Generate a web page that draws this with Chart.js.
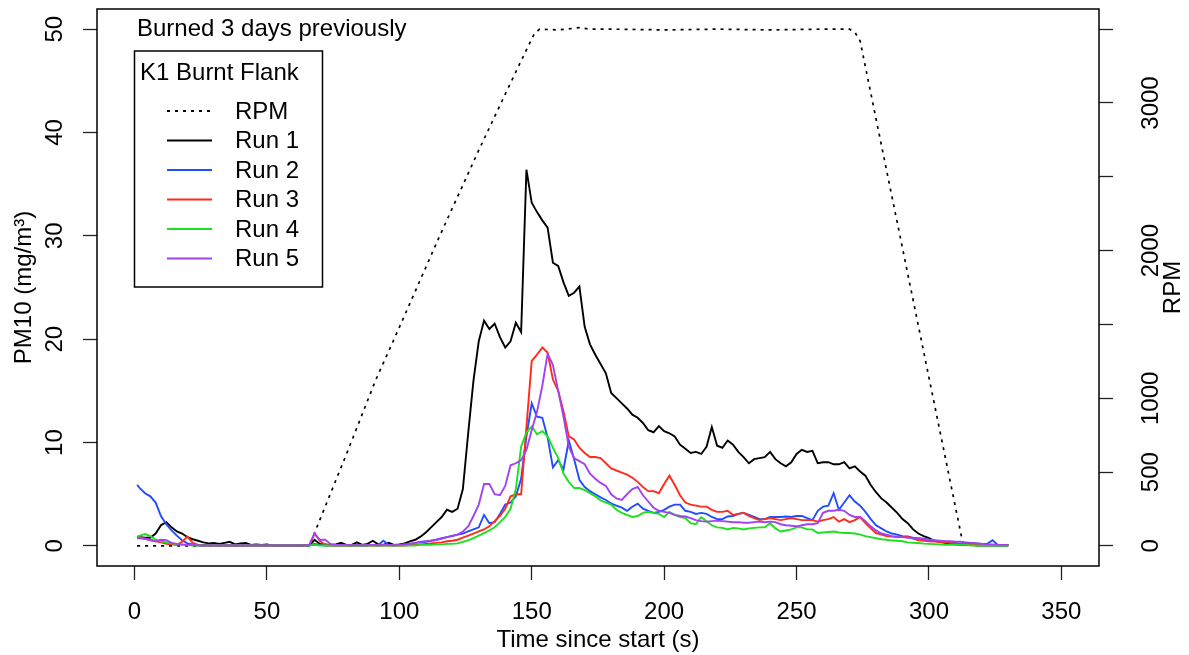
<!DOCTYPE html>
<html>
<head>
<meta charset="utf-8">
<script src="https://cdn.jsdelivr.net/npm/chart.js@4.4.1/dist/chart.umd.min.js"></script>
<style>
  html, body { margin: 0; padding: 0; background: #fff; }
  #wrap { width: 1189px; height: 655px; }
</style>
</head>
<body>
<div id="wrap"><canvas id="pm_chart" width="1189" height="655"></canvas></div>
<script>
// Time since start (s), shared by the five runs
const times = [
  1, 2, 4, 6, 8, 10, 12, 14, 16, 18,
  20, 22, 24, 26, 28, 30, 32, 34, 36, 38,
  40, 42, 44, 46, 48, 50, 52, 54, 56, 58,
  60, 62, 64, 66, 68, 70, 72, 74, 76, 78,
  80, 82, 84, 86, 88, 90, 92, 94, 96, 98,
  100, 102, 104, 106, 108, 110, 112, 114, 116, 118,
  120, 122, 124, 126, 128, 130, 132, 134, 136, 138,
  140, 142, 144, 146, 148, 150, 152, 154, 156, 158,
  160, 162, 164, 166, 168, 170, 172, 174, 176, 178,
  180, 182, 184, 186, 188, 190, 192, 194, 196, 198,
  200, 202, 204, 206, 208, 210, 212, 214, 216, 218,
  220, 222, 224, 226, 228, 230, 232, 234, 236, 238,
  240, 242, 244, 246, 248, 250, 252, 254, 256, 258,
  260, 262, 264, 266, 268, 270, 272, 274, 276, 278,
  280, 282, 284, 286, 288, 290, 292, 294, 296, 298,
  300, 302, 304, 306, 308, 310, 312, 314, 316, 318,
  320, 322, 324, 326, 328, 330
];

// PM10 (mg/m3) per run
const run1 = [
  0.85, 0.85, 0.8, 0.8, 1.2, 2.0, 2.3, 1.8, 1.4, 1.2,
  0.85, 0.65, 0.5, 0.35, 0.25, 0.3, 0.2, 0.3, 0.4, 0.15,
  0.25, 0.3, 0.1, 0.15, 0.1, 0.15, 0.05, 0.05, 0.05, 0.05,
  0.05, 0.05, 0.05, 0.05, 0.6, 0.2, 0.15, 0.1, 0.15, 0.3,
  0.1, 0.1, 0.35, 0.1, 0.2, 0.5, 0.15, 0.1, 0.3, 0.1,
  0.15, 0.25, 0.45, 0.6, 0.9, 1.3, 1.8, 2.3, 2.8, 3.5,
  3.3, 3.6, 5.5, 10.9, 16.0, 19.8, 21.8, 21.0, 21.5, 20.2,
  19.2, 19.8, 21.6, 20.7, 36.4, 33.2, 32.3, 31.5, 30.8, 27.4,
  27.1, 25.5, 24.2, 24.5, 25.1, 21.2, 19.5, 18.5, 17.6, 16.7,
  14.8, 14.3, 13.8, 13.3, 12.7, 12.4, 11.9, 11.2, 11.0, 11.6,
  11.1, 10.9, 10.6, 9.8, 9.4, 9.0, 9.1, 8.9, 9.6, 11.5,
  9.7, 9.5, 10.2, 9.8, 9.1, 8.6, 8.0, 8.4, 8.5, 8.6,
  9.1, 8.4, 8.0, 7.7, 8.1, 8.9, 9.3, 9.1, 9.2, 8.0,
  8.1, 8.1, 7.9, 7.9, 8.1, 7.5, 7.7, 7.2, 6.8, 5.9,
  5.2, 4.6, 4.2, 3.7, 3.2, 2.6, 2.2, 1.6, 1.2, 0.95,
  0.75, 0.5, 0.4, 0.3, 0.2, 0.15, 0.1, 0.1, 0.1, 0.05,
  0.05, 0.05, 0.05, 0.05, 0.05, 0.05
];
const run2 = [
  5.9, 5.6, 5.1, 4.8, 4.2, 2.9, 2.1, 1.5, 1.0, 0.55,
  0.25, 0.15, 0.1, 0.1, 0.1, 0.05, 0.05, 0.05, 0.05, 0.05,
  0.05, 0.05, 0.05, 0.05, 0.05, 0.05, 0.05, 0.05, 0.05, 0.05,
  0.05, 0.05, 0.05, 0.05, 0.2, 0.1, 0.05, 0.05, 0.05, 0.05,
  0.05, 0.05, 0.05, 0.05, 0.05, 0.1, 0.1, 0.5, 0.1, 0.1,
  0.1, 0.15, 0.2, 0.3, 0.35, 0.4, 0.5, 0.6, 0.75, 0.85,
  0.95, 1.1, 1.2, 1.4, 1.6, 1.8, 3.0, 2.2, 2.3, 3.1,
  4.0, 4.2, 4.8, 6.5, 10.6, 13.8, 12.5, 12.4, 10.5, 7.6,
  8.3, 7.4, 10.2, 8.4, 6.4, 5.7, 5.3, 5.0, 4.7, 4.45,
  4.1, 3.9, 3.7, 3.4, 3.8, 4.1, 3.6, 3.4, 3.2, 3.3,
  3.5, 3.8, 4.0, 4.0, 3.4, 3.3, 3.1, 3.2, 3.1, 2.8,
  2.6, 2.6, 2.85, 2.9, 3.1, 3.2, 3.0, 2.8, 2.6, 2.6,
  2.8, 2.8, 2.8, 2.85, 2.8, 2.9, 2.9, 2.7, 2.5, 3.4,
  3.8, 3.9, 5.1, 3.5, 4.2, 4.9, 4.3, 3.9, 3.3, 2.6,
  2.0, 1.7, 1.4, 1.2, 1.1, 0.95, 0.9, 0.8, 0.75, 0.7,
  0.6, 0.5, 0.45, 0.4, 0.35, 0.3, 0.2, 0.25, 0.3, 0.25,
  0.2, 0.2, 0.55, 0.1, 0.1, 0.1
];
const run3 = [
  0.9, 0.85, 0.7, 0.55, 0.45, 0.35, 0.2, 0.15, 0.1, 0.4,
  0.9, 0.3, 0.1, 0.05, 0.05, 0.05, 0.05, 0.05, 0.05, 0.05,
  0.05, 0.05, 0.05, 0.05, 0.05, 0.05, 0.05, 0.05, 0.05, 0.05,
  0.05, 0.05, 0.05, 0.05, 1.2, 0.5, 0.1, 0.05, 0.05, 0.05,
  0.05, 0.05, 0.05, 0.05, 0.05, 0.05, 0.05, 0.05, 0.05, 0.05,
  0.05, 0.05, 0.1, 0.1, 0.15, 0.2, 0.25, 0.3, 0.35, 0.45,
  0.5, 0.6, 0.8, 1.0, 1.2, 1.4, 1.6, 1.9, 2.4, 2.9,
  3.6, 4.8, 5.0, 5.0, 11.5, 17.9, 18.5, 19.2, 18.7, 16.1,
  15.0, 13.0, 10.6, 10.3, 9.5, 9.0, 8.6, 8.6, 8.5, 8.0,
  7.5, 7.3, 7.1, 6.9, 6.6, 6.2, 5.7, 5.3, 5.3, 5.1,
  6.0, 6.8, 5.9, 4.9, 4.2, 4.0, 3.9, 3.8, 3.8, 3.5,
  3.3, 3.3, 3.4, 3.0, 3.1, 3.2, 2.9, 2.7, 2.5, 2.6,
  2.7, 2.6, 2.5, 2.6, 2.7, 2.6, 2.5, 2.5, 2.5, 2.35,
  2.5, 2.6, 2.8, 2.35, 2.6, 2.3, 2.5, 2.8, 2.2, 1.7,
  1.25, 1.1, 0.95, 0.9, 0.85, 0.85, 0.92, 0.7, 0.55, 0.5,
  0.45, 0.42, 0.4, 0.35, 0.3, 0.25, 0.2, 0.2, 0.15, 0.15,
  0.1, 0.1, 0.1, 0.1, 0.1, 0.1
];
const run4 = [
  0.9, 1.0, 1.15, 0.95, 0.6, 0.45, 0.35, 0.25, 0.15, 0.1,
  0.1, 0.05, 0.05, 0.05, 0.05, 0.05, 0.05, 0.05, 0.05, 0.05,
  0.05, 0.05, 0.05, 0.05, 0.05, 0.05, 0.05, 0.05, 0.05, 0.05,
  0.05, 0.05, 0.05, 0.05, 0.1, 0.05, 0.05, 0.05, 0.05, 0.05,
  0.05, 0.05, 0.05, 0.05, 0.05, 0.05, 0.05, 0.05, 0.05, 0.05,
  0.05, 0.05, 0.05, 0.05, 0.1, 0.1, 0.1, 0.15, 0.15, 0.2,
  0.2, 0.25, 0.4, 0.55, 0.75, 1.0, 1.25, 1.5, 1.8, 2.3,
  2.8, 3.6, 5.5, 9.6, 11.0, 11.55, 10.8, 11.1, 10.6, 9.5,
  8.5, 7.0, 6.2, 5.6, 5.6, 5.4, 5.1, 4.8, 4.4, 4.2,
  4.0, 3.5, 3.2, 3.0, 2.8, 2.9, 3.2, 3.3, 3.2, 3.1,
  2.8, 3.3, 3.0, 2.8, 2.7, 2.2, 2.1, 2.8, 2.4, 2.0,
  1.8, 1.75, 1.6, 1.75, 1.7, 1.6, 1.7, 1.75, 1.8, 1.8,
  2.2, 1.7, 1.4, 1.5, 1.6, 1.8, 1.8, 1.6, 1.6, 1.25,
  1.3, 1.35, 1.4, 1.3, 1.25, 1.25, 1.2, 1.1, 0.95, 0.85,
  0.75, 0.65, 0.6, 0.52, 0.5, 0.45, 0.35, 0.3, 0.28, 0.22,
  0.2, 0.18, 0.15, 0.12, 0.1, 0.1, 0.1, 0.1, 0.05, 0.05,
  0.05, 0.05, 0.05, 0.05, 0.05, 0.05
];
const run5 = [
  0.75, 0.75, 0.7, 0.6, 0.45, 0.6, 0.55, 0.3, 0.2, 0.15,
  0.1, 0.1, 0.05, 0.05, 0.05, 0.05, 0.05, 0.05, 0.05, 0.05,
  0.05, 0.05, 0.05, 0.05, 0.05, 0.05, 0.05, 0.05, 0.05, 0.05,
  0.05, 0.05, 0.05, 0.1, 1.2, 0.6, 0.6, 0.2, 0.1, 0.1,
  0.1, 0.05, 0.1, 0.05, 0.1, 0.1, 0.05, 0.1, 0.1, 0.05,
  0.1, 0.15, 0.2, 0.3, 0.4, 0.45, 0.5, 0.6, 0.7, 0.85,
  1.0, 1.1, 1.4, 1.9, 2.9, 4.0, 6.0, 6.0, 5.0, 4.9,
  5.8, 7.8, 8.0, 8.3, 9.3, 11.2, 13.0, 15.5, 18.6, 17.5,
  15.0, 12.5, 9.6, 8.5, 8.2, 7.9, 7.0, 6.5, 6.1, 5.8,
  5.0, 4.6, 4.45, 5.0, 5.5, 5.7, 4.9, 4.3, 3.7, 3.4,
  3.3, 3.2, 3.0, 2.9, 2.85, 2.7, 2.5, 2.4, 2.35, 2.4,
  2.45, 2.4, 2.35, 2.3, 2.3, 2.25, 2.25, 2.3, 2.35, 2.3,
  2.35, 2.3, 2.1, 2.0, 1.95, 1.9, 2.0, 2.1, 2.1, 2.2,
  3.2, 3.4, 3.4, 3.5, 3.4, 3.0, 2.8, 2.8, 2.4, 1.9,
  1.5, 1.2, 1.1, 0.95, 0.9, 0.85, 0.8, 0.75, 0.7, 0.65,
  0.6, 0.55, 0.5, 0.45, 0.45, 0.4, 0.4, 0.35, 0.3, 0.25,
  0.2, 0.15, 0.15, 0.1, 0.1, 0.1
];

// Engine speed, right axis
const rpmTimes = [1, 66, 80, 91, 100, 115, 130, 140, 148, 151, 153, 160, 168, 172, 180, 200, 220, 240, 260, 270, 272, 274, 313];
const rpmValues = [0, 0, 620, 1120, 1480, 2090, 2680, 3060, 3360, 3470, 3500, 3495, 3510, 3500, 3500, 3495, 3500, 3495, 3500, 3500, 3480, 3420, 0];

const xTicks = [0, 50, 100, 150, 200, 250, 300, 350];
const pmTicks = [0, 10, 20, 30, 40, 50];
const rpmTicks = [0, 500, 1000, 1500, 2000, 2500, 3000, 3500];
const rpmLabelled = [0, 500, 1000, 2000, 3000];

const runs = [run1, run2, run3, run4, run5];
const runNames = ['Run 1', 'Run 2', 'Run 3', 'Run 4', 'Run 5'];
const runColors = ['#000000', '#1f4dff', '#ff2b1c', '#1fe01f', '#a243f0'];

const FAMILY = "'Liberation Sans', Arial, Helvetica, sans-serif";
const font = { family: FAMILY, size: 24 };

function toPoints(xs, ys) {
  return xs.map((x, i) => ({ x: x, y: ys[i] }));
}

// R style: no auto padding, fixed axis sizes
function fixSize(prop, size) {
  return scale => {
    scale[prop] = size;
    scale.paddingTop = 0;
    scale.paddingBottom = 0;
    scale.paddingLeft = 0;
    scale.paddingRight = 0;
  };
}

const datasets = [];
for (let i = runs.length - 1; i >= 0; i--) {
  datasets.push({
    label: runNames[i],
    data: toPoints(times, runs[i]),
    borderColor: runColors[i],
    borderWidth: 1.9,
    pointRadius: 0,
    yAxisID: 'y',
  });
}
datasets.push({
  label: 'RPM',
  data: toPoints(rpmTimes, rpmValues),
  borderColor: '#000',
  borderWidth: 1.7,
  borderDash: [3, 5],
  pointRadius: 0,
  yAxisID: 'y2',
});

// frame, annotation, legend and right axis title
const decorations = {
  id: 'decorations',
  afterDraw(chart) {
    const ctx = chart.ctx;
    const a = chart.chartArea;
    ctx.save();
    ctx.strokeStyle = '#000';
    ctx.lineWidth = 1.5;
    ctx.strokeRect(a.left, a.top, a.right - a.left, a.bottom - a.top);

    ctx.font = '24px ' + FAMILY;
    ctx.fillStyle = '#000';
    ctx.textBaseline = 'middle';
    ctx.textAlign = 'left';
    ctx.fillText('Burned 3 days previously', 137, 29);

    ctx.strokeRect(134.5, 51, 188, 236);
    ctx.fillText('K1 Burnt Flank', 140, 73);

    const names = ['RPM'].concat(runNames);
    const colors = ['#000'].concat(runColors);
    names.forEach((name, i) => {
      const y = 111 + i * 29.5;
      ctx.beginPath();
      ctx.setLineDash(i === 0 ? [3, 5] : []);
      ctx.strokeStyle = colors[i];
      ctx.lineWidth = 1.8;
      ctx.moveTo(167, y);
      ctx.lineTo(212, y);
      ctx.stroke();
      ctx.fillText(name, 235, y + 1);
    });
    ctx.setLineDash([]);

    ctx.translate(1173, (a.top + a.bottom) / 2);
    ctx.rotate(-Math.PI / 2);
    ctx.textAlign = 'center';
    ctx.fillText('RPM', 0, 0);
    ctx.restore();
  }
};

const tickGrid = { drawOnChartArea: false, drawTicks: true, tickLength: 14, tickColor: '#222', tickWidth: 1.3 };

new Chart(document.getElementById('pm_chart'), {
  type: 'line',
  data: { datasets: datasets },
  options: {
    responsive: false,
    animation: false,
    devicePixelRatio: 1,
    layout: { padding: { top: 9, left: 0, right: 0, bottom: 0 } },
    plugins: { legend: { display: false }, tooltip: { enabled: false } },
    elements: { line: { tension: 0 } },
    scales: {
      x: {
        type: 'linear',
        min: -14.15,
        max: 364.2,
        afterBuildTicks: s => { s.ticks = xTicks.map(v => ({ value: v })); },
        afterFit: fixSize('height', 89),
        ticks: { font: font, color: '#000', padding: 18, maxRotation: 0, autoSkip: false },
        grid: tickGrid,
        border: { display: false },
        title: { display: true, text: 'Time since start (s)', font: font, color: '#000', padding: { top: 0, bottom: 0 } }
      },
      y: {
        type: 'linear',
        position: 'left',
        min: -1.94,
        max: 51.95,
        afterBuildTicks: s => { s.ticks = pmTicks.map(v => ({ value: v })); },
        afterFit: fixSize('width', 97),
        ticks: { font: font, color: '#000', padding: 14, minRotation: 90, maxRotation: 90, crossAlign: 'center', autoSkip: false },
        grid: tickGrid,
        border: { display: false },
        title: { display: true, text: 'PM10 (mg/m³)', font: font, color: '#000', padding: { top: 10, bottom: 0 } }
      },
      y2: {
        type: 'linear',
        position: 'right',
        min: -135.8,
        max: 3636.5,
        afterBuildTicks: s => { s.ticks = rpmTicks.map(v => ({ value: v })); },
        afterFit: fixSize('width', 90),
        ticks: {
          font: font, color: '#000', padding: 12, minRotation: 90, maxRotation: 90, crossAlign: 'center', autoSkip: false,
          callback: v => rpmLabelled.includes(v) ? String(v) : ''
        },
        grid: tickGrid,
        border: { display: false }
      }
    }
  },
  plugins: [decorations]
});
</script>
</body>
</html>
